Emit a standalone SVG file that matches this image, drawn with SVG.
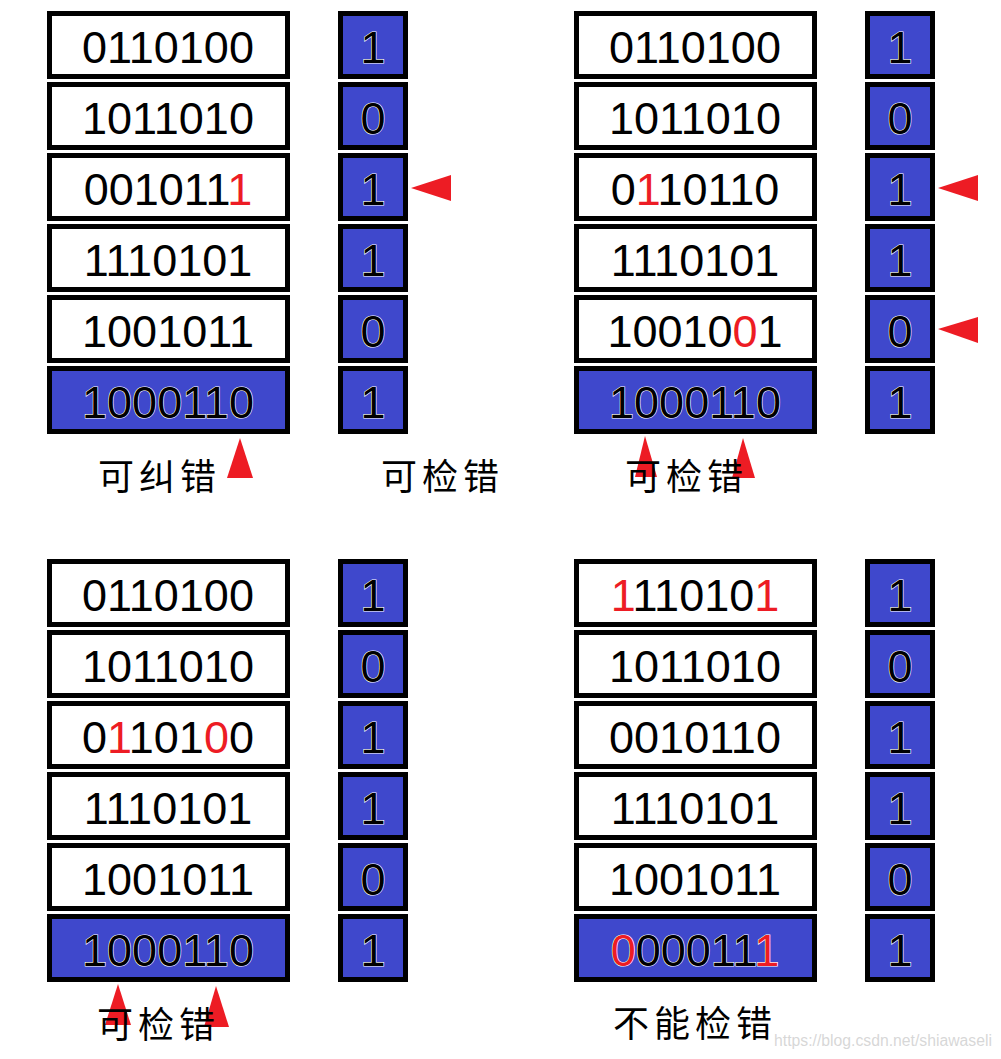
<svg xmlns="http://www.w3.org/2000/svg" width="1001" height="1059" viewBox="0 0 1001 1059">
<style>
.w{fill:#fff;stroke:#000;stroke-width:5}
.b{fill:#3F48CC;stroke:#000;stroke-width:5}
.t{font-family:"Liberation Sans",Arial,sans-serif;font-size:45px;fill:#000;text-anchor:middle}
.tb{font-family:"Liberation Sans",Arial,sans-serif;font-size:45px;fill:#000;text-anchor:middle;stroke:#fff;stroke-width:1.2;paint-order:stroke}
.r{fill:#ED1C24}
.lbl{font-family:"Noto Sans CJK SC",sans-serif;font-size:36px;fill:#000;letter-spacing:5px}
.arr{fill:#ED1C24}
</style>
<defs>
<g id="row"><rect class="w" x="2.5" y="2.5" width="238" height="63"/></g>
<g id="rowb"><rect class="b" x="2.5" y="2.5" width="238" height="63"/></g>
<g id="par"><rect class="b" x="2.5" y="2.5" width="65" height="63"/></g>
</defs>
<rect width="1001" height="1059" fill="#fff"/>

<g id="connectors">
<polygon class="arr" points="411,188 451,175 451,201"/>
<polygon class="arr" points="240,438 227,478 253,478"/>
<polygon class="arr" points="938,188 978,175 978,201"/>
<polygon class="arr" points="938,329 978,317 978,343"/>
<polygon class="arr" points="645,436 635,477 657,477"/>
<polygon class="arr" points="743,438 732,478 755,478"/>
<polygon class="arr" points="118,984 105,1025 131,1025"/>
<polygon class="arr" points="216,986 204,1027 229,1027"/>
</g>

<g id="panel-top-left">
<g id="tl-r1"><use href="#row" x="47" y="11"/><text class="t" x="168" y="63">0110100</text></g>
<g id="tl-r2"><use href="#row" x="47" y="82"/><text class="t" x="168" y="134">1011010</text></g>
<g id="tl-r3"><use href="#row" x="47" y="153"/><text class="t" x="168" y="205">001011<tspan class="r">1</tspan></text></g>
<g id="tl-r4"><use href="#row" x="47" y="224"/><text class="t" x="168" y="276">1110101</text></g>
<g id="tl-r5"><use href="#row" x="47" y="295"/><text class="t" x="168" y="347">1001011</text></g>
<g id="tl-r6"><use href="#rowb" x="47" y="366"/><text class="tb" x="168" y="418">1000110</text></g>
<g id="tl-p1"><use href="#par" x="338" y="11"/><text class="tb" x="373" y="63">1</text></g>
<g id="tl-p2"><use href="#par" x="338" y="82"/><text class="tb" x="373" y="134">0</text></g>
<g id="tl-p3"><use href="#par" x="338" y="153"/><text class="tb" x="373" y="205">1</text></g>
<g id="tl-p4"><use href="#par" x="338" y="224"/><text class="tb" x="373" y="276">1</text></g>
<g id="tl-p5"><use href="#par" x="338" y="295"/><text class="tb" x="373" y="347">0</text></g>
<g id="tl-p6"><use href="#par" x="338" y="366"/><text class="tb" x="373" y="418">1</text></g>
<text class="lbl" x="98" y="490">可纠错</text>
<text class="lbl" x="381" y="490">可检错</text>
</g>

<g id="panel-top-right">
<g id="tr-r1"><use href="#row" x="574" y="11"/><text class="t" x="695" y="63">0110100</text></g>
<g id="tr-r2"><use href="#row" x="574" y="82"/><text class="t" x="695" y="134">1011010</text></g>
<g id="tr-r3"><use href="#row" x="574" y="153"/><text class="t" x="695" y="205">0<tspan class="r">1</tspan>10110</text></g>
<g id="tr-r4"><use href="#row" x="574" y="224"/><text class="t" x="695" y="276">1110101</text></g>
<g id="tr-r5"><use href="#row" x="574" y="295"/><text class="t" x="695" y="347">10010<tspan class="r">0</tspan>1</text></g>
<g id="tr-r6"><use href="#rowb" x="574" y="366"/><text class="tb" x="695" y="418">1000110</text></g>
<g id="tr-p1"><use href="#par" x="865" y="11"/><text class="tb" x="900" y="63">1</text></g>
<g id="tr-p2"><use href="#par" x="865" y="82"/><text class="tb" x="900" y="134">0</text></g>
<g id="tr-p3"><use href="#par" x="865" y="153"/><text class="tb" x="900" y="205">1</text></g>
<g id="tr-p4"><use href="#par" x="865" y="224"/><text class="tb" x="900" y="276">1</text></g>
<g id="tr-p5"><use href="#par" x="865" y="295"/><text class="tb" x="900" y="347">0</text></g>
<g id="tr-p6"><use href="#par" x="865" y="366"/><text class="tb" x="900" y="418">1</text></g>
<text class="lbl" x="625" y="490">可检错</text>
</g>

<g id="panel-bottom-left">
<g id="bl-r1"><use href="#row" x="47" y="559"/><text class="t" x="168" y="611">0110100</text></g>
<g id="bl-r2"><use href="#row" x="47" y="630"/><text class="t" x="168" y="682">1011010</text></g>
<g id="bl-r3"><use href="#row" x="47" y="701"/><text class="t" x="168" y="753">0<tspan class="r">1</tspan>101<tspan class="r">0</tspan>0</text></g>
<g id="bl-r4"><use href="#row" x="47" y="772"/><text class="t" x="168" y="824">1110101</text></g>
<g id="bl-r5"><use href="#row" x="47" y="843"/><text class="t" x="168" y="895">1001011</text></g>
<g id="bl-r6"><use href="#rowb" x="47" y="914"/><text class="tb" x="168" y="966">1000110</text></g>
<g id="bl-p1"><use href="#par" x="338" y="559"/><text class="tb" x="373" y="611">1</text></g>
<g id="bl-p2"><use href="#par" x="338" y="630"/><text class="tb" x="373" y="682">0</text></g>
<g id="bl-p3"><use href="#par" x="338" y="701"/><text class="tb" x="373" y="753">1</text></g>
<g id="bl-p4"><use href="#par" x="338" y="772"/><text class="tb" x="373" y="824">1</text></g>
<g id="bl-p5"><use href="#par" x="338" y="843"/><text class="tb" x="373" y="895">0</text></g>
<g id="bl-p6"><use href="#par" x="338" y="914"/><text class="tb" x="373" y="966">1</text></g>
<text class="lbl" x="97" y="1038">可检错</text>
</g>

<g id="panel-bottom-right">
<g id="br-r1"><use href="#row" x="574" y="559"/><text class="t" x="695" y="611"><tspan class="r">1</tspan>11010<tspan class="r">1</tspan></text></g>
<g id="br-r2"><use href="#row" x="574" y="630"/><text class="t" x="695" y="682">1011010</text></g>
<g id="br-r3"><use href="#row" x="574" y="701"/><text class="t" x="695" y="753">0010110</text></g>
<g id="br-r4"><use href="#row" x="574" y="772"/><text class="t" x="695" y="824">1110101</text></g>
<g id="br-r5"><use href="#row" x="574" y="843"/><text class="t" x="695" y="895">1001011</text></g>
<g id="br-r6"><use href="#rowb" x="574" y="914"/><text class="tb" x="695" y="966"><tspan class="r">0</tspan>00011<tspan class="r">1</tspan></text></g>
<g id="br-p1"><use href="#par" x="865" y="559"/><text class="tb" x="900" y="611">1</text></g>
<g id="br-p2"><use href="#par" x="865" y="630"/><text class="tb" x="900" y="682">0</text></g>
<g id="br-p3"><use href="#par" x="865" y="701"/><text class="tb" x="900" y="753">1</text></g>
<g id="br-p4"><use href="#par" x="865" y="772"/><text class="tb" x="900" y="824">1</text></g>
<g id="br-p5"><use href="#par" x="865" y="843"/><text class="tb" x="900" y="895">0</text></g>
<g id="br-p6"><use href="#par" x="865" y="914"/><text class="tb" x="900" y="966">1</text></g>
<text class="lbl" x="613" y="1037">不能检错</text>
</g>

<text x="774" y="1046" font-family="Liberation Sans,Arial,sans-serif" font-size="16" fill="#d0d0d0" fill-opacity="0.85" textLength="218" lengthAdjust="spacingAndGlyphs">https://blog.csdn.net/shiawaseli</text>
</svg>
